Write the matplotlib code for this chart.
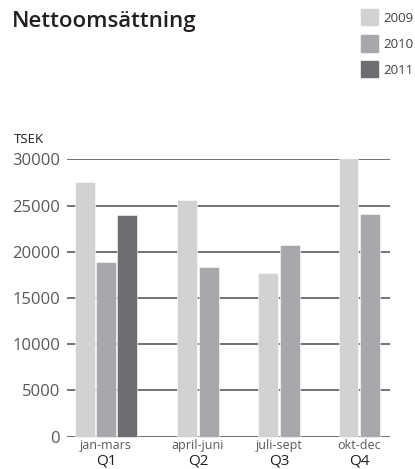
import matplotlib.pyplot as plt
from matplotlib.patches import Rectangle

plt.rcParams['font.family'] = ['Open Sans', 'DejaVu Sans']

years = ["2009", "2010", "2011"]
months = ["jan-mars", "april-juni", "juli-sept", "okt-dec"]
quarters = ["Q1", "Q2", "Q3", "Q4"]
sales_2009 = [27500, 25650, 17750, 30050]
sales_2010 = [18900, 18300, 20750, 24050]
sales_2011 = [24000, None, None, None]
y_ticks = [0, 5000, 10000, 15000, 20000, 25000, 30000]

colors = ["#d1d2d4", "#a7a8ab", "#6d6e71"]
group_x = [0, 4.32, 8.12, 11.88]  # group centres, in bar-slot units

fig = plt.figure(figsize=(4.15, 4.69), dpi=100)
ax = fig.add_axes([67 / 415, 32.3 / 469, 323 / 415, 277.4 / 469])

series = [sales_2009, sales_2010, sales_2011]
for gi, cx in enumerate(group_x):
    vals = [(si, s[gi]) for si, s in enumerate(series) if s[gi] is not None]
    n = len(vals)
    for k, (si, v) in enumerate(vals):
        x = cx + (k - (n - 1) / 2) * 1.0
        ax.bar(x, v, width=0.93, color=colors[si], zorder=3, clip_on=False,
               edgecolor="white", linewidth=0.4)

ax.set_xlim(-1.83, 13.33)
ax.set_ylim(0, 30000)
ax.set_yticks(y_ticks)
ax.set_yticklabels([str(t) for t in y_ticks], color="#58595b", fontsize=12)
ax.tick_params(axis="y", length=0, pad=5)
ax.yaxis.grid(True, color="#4d4d4f", linewidth=1.1, zorder=0)
ax.set_axisbelow(True)
for sp in ax.spines.values():
    sp.set_visible(False)

ax.set_xticks(group_x)
ax.set_xticklabels([""] * 4)
ax.tick_params(axis="x", length=0)
for cx, m, q in zip(group_x, months, quarters):
    ax.annotate(m, (cx, 0), xycoords=("data", "axes fraction"), xytext=(0, -2),
                textcoords="offset points", ha="center", va="top",
                fontsize=9, color="#58595b")
    ax.annotate(q, (cx, 0), xycoords=("data", "axes fraction"),
                xytext=(0, -20), textcoords="offset points", ha="center",
                va="baseline", fontsize=11, color="#231f20")

fig.text(14 / 415, 1 - 139 / 469, "TSEK", fontsize=9.5, color="#231f20",
         ha="left", va="center")
fig.text(12 / 415, 1 - 22 / 469, "Nettoomsättning", fontsize=16,
         fontweight="semibold", color="#231f20", ha="left", va="center")

for i, (yr, c) in enumerate(zip(years, colors)):
    top = 9 + i * 26
    fig.patches.append(Rectangle((361 / 415, 1 - (top + 16.5) / 469), 17 / 415,
                                 16.5 / 469, transform=fig.transFigure,
                                 color=c))
    fig.text(383 / 415, 1 - (top + 9) / 469, yr, fontsize=9.5,
             color="#414042", ha="left", va="center")

fig.savefig("out.png", dpi=100)
